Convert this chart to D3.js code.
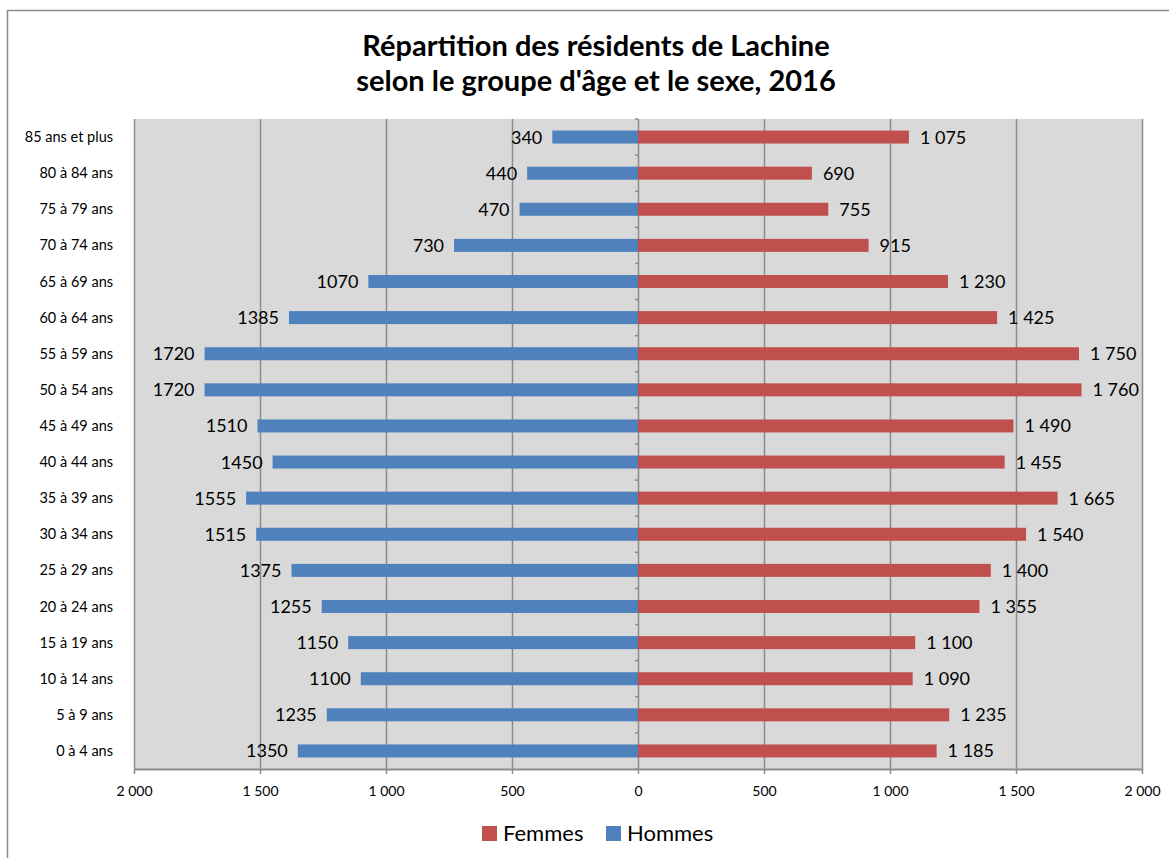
<!DOCTYPE html>
<html>
<head>
<meta charset="utf-8">
<script src="https://cdn.jsdelivr.net/npm/d3@7"></script>
<style>
  body { margin: 0; background: #fff; }
  svg { display: block; font-family: "Lato", "Open Sans", sans-serif; }
</style>
</head>
<body>
<div id="chart"></div>
<script>
// age groups, from youngest to oldest
const categories = [
  "0 à 4 ans", "5 à 9 ans", "10 à 14 ans", "15 à 19 ans", "20 à 24 ans",
  "25 à 29 ans", "30 à 34 ans", "35 à 39 ans", "40 à 44 ans", "45 à 49 ans",
  "50 à 54 ans", "55 à 59 ans", "60 à 64 ans", "65 à 69 ans", "70 à 74 ans",
  "75 à 79 ans", "80 à 84 ans", "85 ans et plus"
];
const hommes = [1350, 1235, 1100, 1150, 1255, 1375, 1515, 1555, 1450, 1510,
  1720, 1720, 1385, 1070, 730, 470, 440, 340];
const femmes = [1185, 1235, 1090, 1100, 1355, 1400, 1540, 1665, 1455, 1490,
  1760, 1750, 1425, 1230, 915, 755, 690, 1075];
const tickValues = [-2000, -1500, -1000, -500, 0, 500, 1000, 1500, 2000];
const titleLines = ["Répartition des résidents de Lachine", "selon le groupe d'âge et le sexe, 2016"];

// chart settings
const width = 1169;
const height = 858;
const plot = { left: 134, right: 1142, top: 119, bottom: 769 };
const blue = "#4f81bd";
const red = "#c0504d";
const grid = "#8c8c8c";

const fr = d3.formatLocale({ decimal: ",", thousands: " ", grouping: [3], currency: ["", " $"] });
const fmt = fr.format(",d");

// scales
const x = d3.scaleLinear().domain([-2000, 2000]).range([plot.left, plot.right]);
const y = d3.scaleBand()
  .domain(categories.slice().reverse())
  .range([plot.top, plot.bottom])
  .paddingInner(0.64)
  .paddingOuter(0.32);

const svg = d3.select("#chart").append("svg")
  .attr("width", width)
  .attr("height", height);

// outer frame
svg.append("rect")
  .attr("x", 7.5).attr("y", 10.5)
  .attr("width", width + 10).attr("height", height + 10)
  .attr("fill", "#fff").attr("stroke", "#8c8c8c").attr("stroke-width", 1.5);

// title
svg.append("g").selectAll("text")
  .data(titleLines)
  .join("text")
  .attr("x", 596)
  .attr("y", (d, i) => 56 + i * 35)
  .attr("text-anchor", "middle")
  .style("font-size", "29px")
  .style("font-weight", "bold")
  .attr("fill", "#000")
  .text(d => d);

// plot background
svg.append("rect")
  .attr("x", plot.left).attr("y", plot.top)
  .attr("width", plot.right - plot.left).attr("height", plot.bottom - plot.top)
  .attr("fill", "#d9d9d9");

// vertical gridlines
svg.append("g").selectAll("line")
  .data(tickValues)
  .join("line")
  .attr("x1", d => x(d) + 0.5).attr("x2", d => x(d) + 0.5)
  .attr("y1", plot.top).attr("y2", plot.bottom)
  .attr("stroke", grid).attr("stroke-width", 1.5);

// x-axis
const xAxis = d3.axisBottom(x)
  .tickValues(tickValues)
  .tickSize(5)
  .tickSizeOuter(0)
  .tickFormat(d => fmt(Math.abs(d)));
const gx = svg.append("g")
  .attr("transform", "translate(0," + plot.bottom + ")")
  .call(xAxis);
gx.select(".domain").attr("stroke", grid).attr("stroke-width", 2);
gx.selectAll(".tick line").attr("stroke", grid).attr("stroke-width", 1.5);
gx.selectAll(".tick text")
  .attr("y", 17)
  .attr("fill", "#000")
  .style("font-size", "14px")
  .style("font-family", "Lato, sans-serif");

// minor ticks on the zero axis, at category boundaries
const bounds = d3.range(categories.length + 1).map(i => plot.top + i * y.step());
svg.append("g").selectAll("line")
  .data(bounds)
  .join("line")
  .attr("x1", x(0) - 3).attr("x2", x(0))
  .attr("y1", d => d).attr("y2", d => d)
  .attr("stroke", grid).attr("stroke-width", 1.5);

// category labels
svg.append("g").selectAll("text")
  .data(categories)
  .join("text")
  .attr("x", 113)
  .attr("y", d => y(d) + y.bandwidth() / 2)
  .attr("dy", "0.35em")
  .attr("text-anchor", "end")
  .style("font-size", "14.5px")
  .attr("fill", "#000")
  .text(d => d);

// bars - hommes
svg.append("g").selectAll("rect")
  .data(categories)
  .join("rect")
  .attr("x", (d, i) => x(-hommes[i]))
  .attr("y", d => y(d))
  .attr("width", (d, i) => x(0) - x(-hommes[i]))
  .attr("height", y.bandwidth())
  .attr("fill", blue);

// bars - femmes
svg.append("g").selectAll("rect")
  .data(categories)
  .join("rect")
  .attr("x", x(0))
  .attr("y", d => y(d))
  .attr("width", (d, i) => x(femmes[i]) - x(0))
  .attr("height", y.bandwidth())
  .attr("fill", red);

// data labels
svg.append("g").selectAll("text")
  .data(categories)
  .join("text")
  .attr("x", (d, i) => x(-hommes[i]) - 10)
  .attr("y", d => y(d) + y.bandwidth() / 2)
  .attr("dy", "0.36em")
  .attr("text-anchor", "end")
  .style("font-size", "18px")
  .attr("fill", "#000")
  .text((d, i) => hommes[i]);

svg.append("g").selectAll("text")
  .data(categories)
  .join("text")
  .attr("x", (d, i) => x(femmes[i]) + 11)
  .attr("y", d => y(d) + y.bandwidth() / 2)
  .attr("dy", "0.36em")
  .attr("text-anchor", "start")
  .style("font-size", "18px")
  .attr("fill", "#000")
  .text((d, i) => fmt(femmes[i]));

// legend
const legend = [
  { label: "Femmes", color: red, x: 482 },
  { label: "Hommes", color: blue, x: 606 }
];
const lg = svg.append("g").selectAll("g")
  .data(legend)
  .join("g")
  .attr("transform", d => "translate(" + d.x + ",826)");
lg.append("rect")
  .attr("width", 15).attr("height", 15)
  .attr("fill", d => d.color);
lg.append("text")
  .attr("x", 21).attr("y", 7.5)
  .attr("dy", "0.36em")
  .style("font-size", "22px")
  .attr("fill", "#000")
  .text(d => d.label);
</script>
</body>
</html>
